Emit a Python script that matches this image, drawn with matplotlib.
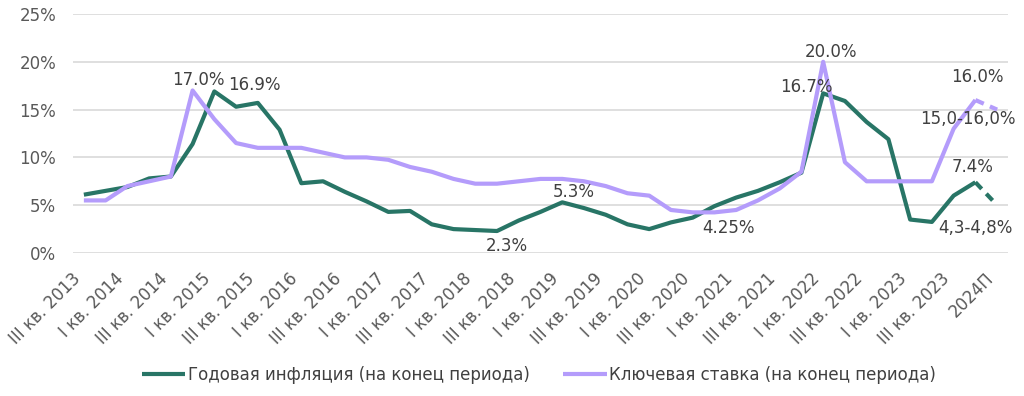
import matplotlib
matplotlib.use("Agg")
import matplotlib.pyplot as plt
import matplotlib.transforms as mtransforms

# quarters from III кв. 2013 to IV кв. 2023, plus forecast
QUARTERS = []
for year in range(2013, 2024):
    for q in ["I", "II", "III", "IV"]:
        if year == 2013 and q in ("I", "II"):
            continue
        QUARTERS.append(f"{q} кв. {year}")
QUARTERS.append("2024П")

INFLATION = [6.1, 6.5, 6.9, 7.8, 8.0, 11.4, 16.9, 15.3, 15.7, 12.9,
             7.3, 7.5, 6.4, 5.4, 4.3, 4.4, 3.0, 2.5, 2.4, 2.3,
             3.4, 4.3, 5.3, 4.7, 4.0, 3.0, 2.5, 3.2, 3.7, 4.9,
             5.8, 6.5, 7.4, 8.4, 16.7, 15.9, 13.7, 11.9, 3.5, 3.25,
             6.0, 7.4, 5.0]
KEY_RATE = [5.5, 5.5, 7.0, 7.5, 8.0, 17.0, 14.0, 11.5, 11.0, 11.0,
            11.0, 10.5, 10.0, 10.0, 9.75, 9.0, 8.5, 7.75, 7.25, 7.25,
            7.5, 7.75, 7.75, 7.5, 7.0, 6.25, 6.0, 4.5, 4.25, 4.25,
            4.5, 5.5, 6.75, 8.5, 20.0, 9.5, 7.5, 7.5, 7.5, 7.5,
            13.0, 16.0, 15.0]

# (index, series, text, offset in pixels)
LABELS = [
    (5, KEY_RATE, "17.0%", (6, 10)),
    (6, INFLATION, "16.9%", (40, 6)),
    (19, INFLATION, "2.3%", (10, -15)),
    (22, INFLATION, "5.3%", (12, 10)),
    (29, KEY_RATE, "4.25%", (14, -16)),
    (34, INFLATION, "16.7%", (-17, 6)),
    (34, KEY_RATE, "20.0%", (8, 10)),
    (41, KEY_RATE, "16.0%", (2, 23)),
    (42, KEY_RATE, "15,0-16,0%", (-29, -9)),
    (41, INFLATION, "7.4%", (-3, 15)),
    (42, INFLATION, "4,3-4,8%", (-22, -23)),
]

GREEN = "#287566"
PURPLE = "#B49CFB"
TEXT = "#404040"

plt.rcParams["font.family"] = ["DejaVu Sans"]

fig = plt.figure(figsize=(10.24, 3.96), dpi=100)
ax = fig.add_axes([73 / 1024, 1 - 253 / 396, (1008 - 73) / 1024, (253 - 14) / 396])

x = list(range(len(QUARTERS)))
n = len(QUARTERS)

for series, color, name in [(INFLATION, GREEN, "Годовая инфляция (на конец периода)"),
                            (KEY_RATE, PURPLE, "Ключевая ставка (на конец периода)")]:
    ax.plot(x[:n - 1], series[:n - 1], color=color, lw=3, label=name,
            solid_joinstyle="round", solid_capstyle="butt", zorder=3)
    ax.plot(x[n - 2:], series[n - 2:], color=color, lw=3,
            linestyle=(0, (2.2, 1.6)), zorder=3)

for i, series, text, (dx, dy) in LABELS:
    ax.annotate(text, (x[i], series[i]), xytext=(dx, dy), textcoords="offset pixels",
                ha="center", va="center", fontsize=12, color=TEXT, zorder=4)

ax.set_xlim(-0.5, n - 0.5)
ax.set_ylim(0, 25)
ax.set_yticks(range(0, 26, 5))
ax.set_yticklabels([f"{v}%" for v in range(0, 26, 5)])
ax.grid(axis="y", color="#D9D9D9", lw=1.2)
ax.set_axisbelow(True)
for s in ax.spines.values():
    s.set_visible(False)

ax.set_xticks(x[::2])
ax.set_xticklabels(QUARTERS[::2], rotation=45, ha="right", fontsize=12, color="#595959")
offset = mtransforms.ScaledTranslation(6 / 100, 0, fig.dpi_scale_trans)
for lbl in ax.get_xticklabels():
    lbl.set_transform(lbl.get_transform() + offset)
ax.tick_params(axis="x", length=0, pad=12)
ax.tick_params(axis="y", length=0, pad=12, labelsize=12, labelcolor="#595959")

fig.legend(*ax.get_legend_handles_labels(), loc="center", bbox_to_anchor=(539 / 1024, 1 - 375 / 396),
           ncol=2, frameon=False, fontsize=12, handlelength=2.6, handletextpad=0.15,
           columnspacing=2.0, labelcolor=TEXT)

fig.savefig("out.png", dpi=100)
